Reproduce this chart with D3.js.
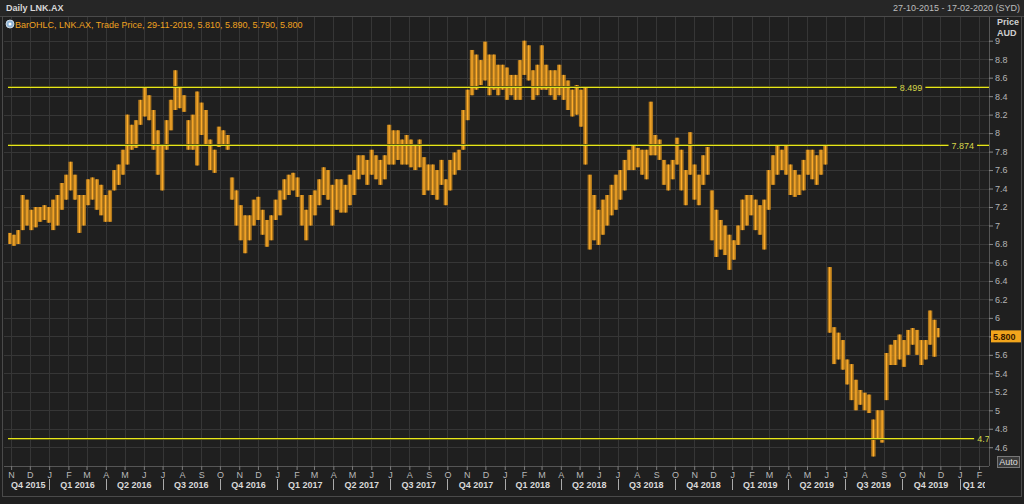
<!DOCTYPE html>
<html><head><meta charset="utf-8">
<script src="https://cdn.jsdelivr.net/npm/d3@7"></script>
<style>
html,body{margin:0;padding:0;background:#1f1f1f;overflow:hidden}
text{font-family:"Liberation Sans",Arial,sans-serif}
</style>
</head><body>
<svg id="c" width="1024" height="504"></svg>
<script>
// ---------- DATA ----------
const title = "Daily LNK.AX";
const rangeText = "27-10-2015 - 17-02-2020 (SYD)";
const legendText = "BarOHLC, LNK.AX, Trade Price, 29-11-2019, 5.810, 5.890, 5.790, 5.800";
const firstWeek = "2015-10-26";      // Monday of first weekly bar
const dataStart = "2015-10-27";
const dataEnd = "2019-11-29";
const viewEnd = "2020-02-17";
const lastClose = 5.800;
// weekly highs / lows
const weekHigh = [6.92,6.90,6.95,7.33,7.28,7.17,7.20,7.20,7.22,7.20,7.28,7.33,7.46,7.55,7.69,7.55,7.33,7.33,7.50,7.52,
7.50,7.44,7.33,7.38,7.60,7.66,7.82,8.20,8.09,8.14,8.36,8.50,8.41,8.25,8.03,7.87,8.14,8.36,8.68,8.49,
8.41,8.14,8.20,8.45,8.33,8.25,7.93,7.82,8.07,8.03,7.98,7.52,7.38,7.22,7.11,7.11,7.28,7.31,7.17,7.06,
7.11,7.28,7.38,7.50,7.55,7.57,7.52,7.33,7.17,7.33,7.38,7.50,7.63,7.60,7.44,7.50,7.50,7.44,7.55,7.60,
7.76,7.76,7.71,7.82,7.76,7.71,7.76,8.09,8.03,8.03,7.93,7.98,7.93,7.87,7.93,7.74,7.66,7.66,7.60,7.71,
7.50,7.71,7.79,7.82,8.25,8.47,8.90,8.85,8.79,8.99,8.85,8.85,8.74,8.74,8.71,8.63,8.63,8.79,9.00,8.95,
8.68,8.74,8.95,8.74,8.68,8.68,8.74,8.63,8.57,8.47,8.52,8.47,8.50,7.55,7.33,7.17,7.28,7.33,7.44,7.55,
7.60,7.71,7.82,7.87,7.84,7.82,7.82,8.34,7.98,7.93,7.71,7.66,7.71,7.95,7.82,7.60,8.01,7.66,7.55,7.76,
7.85,7.38,7.17,7.06,7.00,6.90,6.84,7.00,7.28,7.33,7.33,7.28,7.22,7.28,7.60,7.76,7.87,7.82,7.87,7.66,
7.60,7.55,7.71,7.82,7.82,7.76,7.82,7.87,6.55,5.90,5.84,5.76,5.55,5.50,5.33,5.22,5.19,5.17,4.90,5.00,
5.00,5.62,5.71,5.76,5.82,5.76,5.87,5.89,5.87,5.76,5.76,6.08,5.98,5.89];
const weekLow = [6.80,6.78,6.80,6.95,7.00,6.95,6.98,7.04,7.06,7.03,6.95,7.00,7.17,7.28,7.38,7.28,6.92,7.00,7.22,7.28,
7.17,7.11,7.04,7.04,7.38,7.44,7.55,7.66,7.82,7.84,8.09,8.18,8.14,7.82,7.55,7.38,7.82,8.03,8.25,8.27,
8.23,7.82,7.82,7.65,7.98,7.87,7.60,7.57,7.85,7.87,7.82,7.28,7.00,6.84,6.70,6.84,7.00,7.06,6.90,6.77,
6.84,7.06,7.11,7.28,7.33,7.38,7.31,7.00,6.84,7.00,7.11,7.22,7.33,7.28,7.00,7.17,7.14,7.14,7.22,7.33,
7.50,7.55,7.44,7.55,7.50,7.44,7.50,7.66,7.66,7.71,7.66,7.66,7.63,7.60,7.63,7.33,7.38,7.33,7.28,7.44,
7.22,7.38,7.55,7.60,7.82,8.14,8.41,8.47,8.52,8.57,8.41,8.47,8.41,8.47,8.36,8.41,8.36,8.36,8.63,8.57,
8.36,8.41,8.47,8.47,8.41,8.36,8.41,8.36,8.25,8.18,8.20,8.07,7.66,6.74,6.84,6.79,6.90,7.00,7.11,7.17,
7.28,7.38,7.60,7.60,7.63,7.55,7.50,7.76,7.76,7.71,7.44,7.38,7.50,7.66,7.38,7.22,7.55,7.28,7.22,7.44,
7.55,6.84,6.66,6.74,6.68,6.52,6.63,6.79,6.95,7.00,7.11,6.95,6.90,6.74,7.17,7.44,7.55,7.60,7.55,7.33,
7.31,7.33,7.38,7.55,7.50,7.44,7.55,7.66,5.84,5.50,5.55,5.44,5.28,5.11,5.00,5.06,5.00,4.97,4.50,4.68,
4.65,5.11,5.49,5.49,5.55,5.47,5.60,5.71,5.60,5.49,5.55,5.71,5.58,5.79];
const levels = [8.499, 7.874, 4.7];
const levelLabels = ["8.499", "7.874", "4.7"];
const levelLabelX = ["2019-10-15", "2020-01-06", "2020-02-08"]; // label positions along the line
const yTicks = [4.6,4.8,5,5.2,5.4,5.6,5.8,6,6.2,6.4,6.6,6.8,7,7.2,7.4,7.6,7.8,8,8.2,8.4,8.6,8.8,9];
const quarterLabels = ["Q4 2015","Q1 2016","Q2 2016","Q3 2016","Q4 2016","Q1 2017","Q2 2017","Q3 2017","Q4 2017",
"Q1 2018","Q2 2018","Q3 2018","Q4 2018","Q1 2019","Q2 2019","Q3 2019","Q4 2019","Q1 2020"];

// ---------- LAYOUT ----------
const W = 1024, H = 504;
const P = {l: 4, r: 989, t: 17, b: 466};
const parse = d3.utcParse("%Y-%m-%d");
const svg = d3.select("#c");

const x = d3.scaleUtc().domain([parse(dataStart), parse(viewEnd)]).range([8, P.r]);
const y = d3.scaleLinear().domain([4.7, 8.499]).range([438, 87]);

// background
svg.append("rect").attr("width", W).attr("height", H).attr("fill", "#1f1f1f");
svg.append("rect").attr("x", 0).attr("y", 0).attr("width", W).attr("height", 16).attr("fill", "#262626");
svg.append("line").attr("x1", 0).attr("x2", W).attr("y1", 16.5).attr("y2", 16.5).attr("stroke", "#444");
// frame
svg.append("rect").attr("x", 2.5).attr("y", 16.5).attr("width", 1019).attr("height", 480)
  .attr("fill", "none").attr("stroke", "#4a4a4a");

// grid
const months = d3.utcMonth.range(d3.utcMonth.ceil(parse(dataStart)), parse(viewEnd));
const grid = svg.append("g");
grid.selectAll("line.v").data(months).join("line")
  .attr("x1", d => Math.round(x(d)) + 0.5).attr("x2", d => Math.round(x(d)) + 0.5)
  .attr("y1", P.t).attr("y2", P.b + 4).attr("stroke", "#363636");
grid.selectAll("line.h").data(yTicks).join("line")
  .attr("x1", P.l).attr("x2", P.r).attr("y1", d => Math.round(y(d)) + 0.5).attr("y2", d => Math.round(y(d)) + 0.5)
  .attr("stroke", "#363636");

// clip
svg.append("clipPath").attr("id", "pc").append("rect")
  .attr("x", P.l).attr("y", P.t).attr("width", P.r - P.l).attr("height", P.b - P.t);

// weekly bars
const w0 = parse(firstWeek);
const bars = weekHigh.map((h, i) => {
  const s = d3.utcDay.offset(w0, 7 * i);
  const e = d3.utcDay.offset(w0, 7 * i + 7);
  const sd = s < parse(dataStart) ? parse(dataStart) : s;
  const ed = e > d3.utcDay.offset(parse(dataEnd), 1) ? d3.utcDay.offset(parse(dataEnd), 1) : e;
  return {s: sd, e: ed, h, l: weekLow[i]};
});
const pg = svg.append("g").attr("clip-path", "url(#pc)");
pg.selectAll("rect.bar").data(bars).join("rect")
  .attr("x", d => x(d.s)).attr("width", d => Math.max(1, x(d.e) - x(d.s)))
  .attr("y", d => y(d.h)).attr("height", d => Math.max(1, y(d.l) - y(d.h)))
  .attr("fill", "#d9911c").attr("opacity", 0.78);
pg.selectAll("line.stick").data(bars).join("line")
  .attr("x1", d => (x(d.s) + x(d.e)) / 2).attr("x2", d => (x(d.s) + x(d.e)) / 2)
  .attr("y1", d => y(d.h)).attr("y2", d => y(d.l))
  .attr("stroke", "#ffad2a").attr("stroke-width", 1.3);

// level lines: 1px bright row plus a dim companion row so the yellow hue survives
const levelColor = "#e6e61a", levelGlow = "#5c5c12";
levels.forEach((v, i) => {
  const yy = Math.round(y(v));
  const pair = (yy % 2 === 0) ? yy + 1 : yy - 1;
  const lx = x(parse(levelLabelX[i]));
  const t = svg.append("text").attr("x", lx).attr("y", yy + 3.5).attr("text-anchor", "middle")
    .attr("font-size", 9).attr("fill", "#d6d64a").text(levelLabels[i]);
  const bb = t.node().getBBox();
  const segs = [[8, bb.x - 3]];
  if (bb.x + bb.width + 3 < P.r) segs.push([bb.x + bb.width + 3, P.r]);
  segs.forEach(([a, b]) => {
    svg.append("rect").attr("x", a).attr("y", pair).attr("width", b - a).attr("height", 1).attr("fill", levelGlow);
    svg.append("rect").attr("x", a).attr("y", yy).attr("width", b - a).attr("height", 1).attr("fill", levelColor);
  });
});

// right axis
const ya = svg.append("g").attr("transform", `translate(${P.r},0)`)
  .call(d3.axisRight(y).tickValues(yTicks).tickSize(4).tickPadding(2)
    .tickFormat(d => String(+d.toFixed(1))));
ya.select(".domain").attr("stroke", "#555").attr("d", `M0.5,${P.t}V${P.b}`);
ya.selectAll(".tick line").attr("stroke", "#888");
ya.selectAll(".tick text").attr("fill", "#b4b4b4").attr("font-size", 9).attr("font-family", "Liberation Sans, Arial");
// the tick label hidden under the last-price box
ya.selectAll(".tick").filter(d => Math.abs(y(d) - y(lastClose)) < 8).select("text").remove();
svg.append("text").attr("x", 997).attr("y", 25).attr("font-size", 9).attr("font-weight", "bold").attr("fill", "#cfcfcf").text("Price");
svg.append("text").attr("x", 997).attr("y", 36).attr("font-size", 9).attr("font-weight", "bold").attr("fill", "#cfcfcf").text("AUD");

// last price box
const cy = y(lastClose);
svg.append("rect").attr("x", 991).attr("y", cy - 6).attr("width", 30).attr("height", 12).attr("fill", "#f2a51c");
svg.append("text").attr("x", 993).attr("y", cy + 3.5).attr("font-size", 9).attr("font-weight", "bold")
  .attr("fill", "#3a1a00").text(lastClose.toFixed(3));
// Auto box
svg.append("rect").attr("x", 997.5).attr("y", 456.5).attr("width", 22).attr("height", 11).attr("fill", "#3a3a3a").attr("stroke", "#777");
svg.append("text").attr("x", 1008.5).attr("y", 465).attr("text-anchor", "middle").attr("font-size", 9).attr("fill", "#ddd").text("Auto");

// bottom axis (months)
const xa = svg.append("g").attr("transform", `translate(0,${P.b})`)
  .call(d3.axisBottom(x).tickValues(months).tickSize(4).tickPadding(2)
    .tickFormat(d => d3.utcFormat("%b")(d)[0]));
xa.select(".domain").attr("stroke", "#555").attr("d", `M${P.l},0.5H${P.r}`);
xa.selectAll(".tick line").attr("stroke", "#777");
xa.selectAll(".tick text").attr("fill", "#b8b8b8").attr("font-size", 9).attr("font-family", "Liberation Sans, Arial");

// quarter labels
const qStarts = d3.utcMonth.every(3).range(d3.utcMonth.offset(parse(dataStart), -3), parse(viewEnd))
  .filter(d => d3.utcMonth.offset(d, 3) > parse(dataStart));
svg.append("clipPath").attr("id", "qc").append("rect").attr("x", P.l).attr("y", 470).attr("width", 985 - P.l).attr("height", 25);
const qg = svg.append("g").attr("clip-path", "url(#qc)");
qStarts.forEach((q, i) => {
  const a = Math.max(x(q), x(parse(dataStart)));
  const b = Math.min(x(d3.utcMonth.offset(q, 3)), P.r);
  if (x(q) > P.l + 5)
    svg.append("line").attr("x1", Math.round(x(q)) + 0.5).attr("x2", Math.round(x(q)) + 0.5)
      .attr("y1", 479).attr("y2", 490).attr("stroke", "#aaa");
  const t = qg.append("text").attr("y", 488).attr("font-size", 9).attr("font-weight", "bold")
    .attr("fill", "#d8d8d8").text(quarterLabels[i]);
  const tw = t.node().getComputedTextLength();
  if (b - a < tw + 8) t.attr("x", a + 3);
  else t.attr("x", (a + b) / 2).attr("text-anchor", "middle");
});

// header
svg.append("text").attr("x", 6).attr("y", 11).attr("font-size", 9).attr("font-weight", "bold").attr("fill", "#d8d8d8").text(title);
svg.append("text").attr("x", 1020).attr("y", 11).attr("text-anchor", "end").attr("font-size", 9).attr("fill", "#bdbdbd").text(rangeText);
// legend
const lg = svg.append("g").attr("transform", "translate(10,24)");
lg.append("circle").attr("r", 4).attr("fill", "#8fb4d6").attr("stroke", "#dfe8f0").attr("stroke-width", 0.8);
lg.append("circle").attr("r", 1.5).attr("fill", "#fff");
lg.append("text").attr("x", 5).attr("y", 3.5).attr("font-size", 9).attr("fill", "#f0a31f").text(legendText);
</script>
</body></html>
